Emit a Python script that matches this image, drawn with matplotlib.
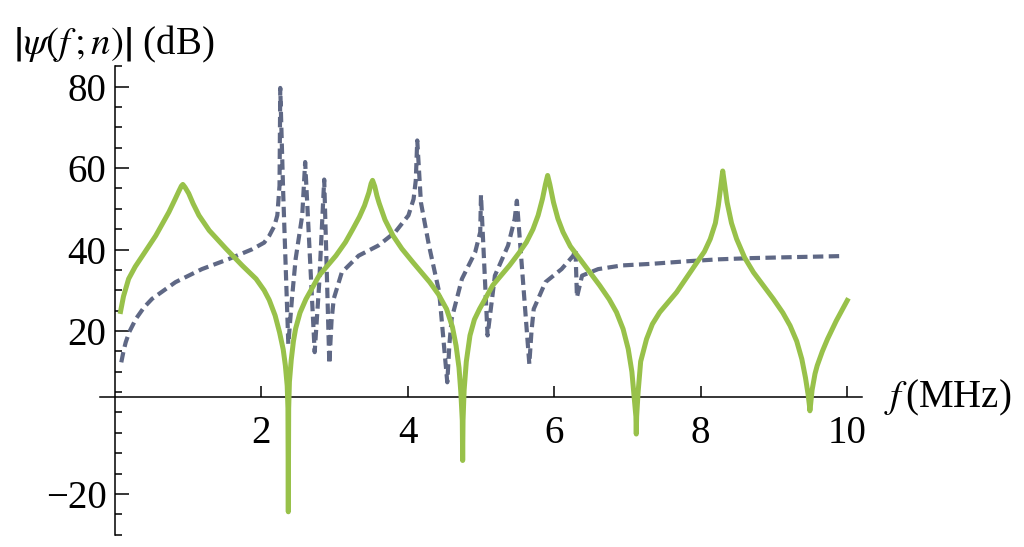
import numpy as np
import matplotlib
matplotlib.use("Agg")
import matplotlib.pyplot as plt
from matplotlib.ticker import FixedLocator

plt.rcParams["font.family"] = "Liberation Serif"
plt.rcParams["mathtext.fontset"] = "stix"
plt.rcParams["font.size"] = 28

# green solid curve
f_green = [0.08, 0.12, 0.19, 0.28, 0.38, 0.56, 0.74, 0.82, 0.88, 0.91, 0.93,
           0.96, 1.01, 1.07, 1.15, 1.29, 1.52, 1.74, 1.93, 2.04, 2.11, 2.19,
           2.25, 2.30, 2.33, 2.355, 2.365, 2.37, 2.375, 2.385, 2.41, 2.44,
           2.47, 2.53, 2.61, 2.79, 3.02, 3.15, 3.25, 3.34, 3.41, 3.47, 3.50,
           3.52, 3.55, 3.58, 3.61, 3.69, 3.80, 3.92, 4.07, 4.30, 4.42, 4.53,
           4.61, 4.66, 4.70, 4.725, 4.745, 4.75, 4.755, 4.77, 4.80, 4.85,
           4.91, 4.98, 5.16, 5.39, 5.52, 5.62, 5.71, 5.78, 5.84, 5.88, 5.91,
           5.94, 5.99, 6.05, 6.12, 6.22, 6.35, 6.62, 6.75, 6.85, 6.94, 7.01,
           7.06, 7.095, 7.115, 7.12, 7.125, 7.145, 7.18, 7.26, 7.34, 7.44,
           7.67, 7.95, 8.05, 8.13, 8.20, 8.24, 8.27, 8.30, 8.33, 8.36, 8.42,
           8.49, 8.60, 8.72, 8.99, 9.12, 9.22, 9.31, 9.38, 9.43, 9.465, 9.485,
           9.49, 9.50, 9.52, 9.56, 9.59, 9.66, 9.73, 9.85, 10.0]
psi_green = [24.8, 28.5, 32.8, 35.8, 38.5, 43.4, 49.2, 52.2, 54.5, 55.6, 56.0,
             55.3, 53.8, 51.3, 48.4, 44.7, 40.2, 36.1, 32.8, 30.0, 27.6, 23.8,
             19.7, 15.5, 11.5, 6.5, 1.0, -24.4, 1.0, 7.5, 12.9, 17.5,
             20.6, 24.5, 27.8, 33.6, 38.5, 41.8, 45.0, 48.0, 50.8, 54.0, 56.2,
             57.0, 55.5, 53.2, 51.4, 47.3, 43.4, 40.2, 36.9, 32.0, 29.0, 25.4,
             21.0, 16.4, 11.0, 5.0, -2.0, -11.8, -2.0, 5.5, 12.5, 18.9,
             22.8, 25.4, 31.2, 36.1, 39.2, 41.8, 45.0, 48.4, 52.5, 56.0, 58.2,
             56.0, 51.6, 47.6, 44.3, 40.8, 37.7, 31.2, 27.8, 24.6, 20.5, 15.6,
             10.0, 3.0, -1.0, -5.3, -1.0, 5.0, 12.5, 18.0, 21.7, 24.6,
             29.5, 36.9, 39.5, 42.6, 46.5, 50.8, 55.0, 59.3, 55.5, 51.6, 46.5,
             42.6, 38.0, 34.4, 27.9, 24.5, 21.3, 17.5, 13.1, 8.5, 4.5, 1.5,
             0.4, 2.0, 5.5, 9.5, 11.5, 15.0, 18.0, 22.5, 27.5]

# dashed curve
f_dash = [0.09, 0.12, 0.15, 0.20, 0.29, 0.40, 0.51, 0.83, 1.19, 1.56, 1.88,
          2.04, 2.11, 2.18, 2.22, 2.25, 2.26, 2.30, 2.37, 2.42, 2.47, 2.56,
          2.60, 2.73, 2.79, 2.86, 2.93, 2.96, 2.99, 3.10, 3.33, 3.60, 3.83,
          4.01, 4.08, 4.11, 4.13, 4.18, 4.29, 4.43, 4.54, 4.57, 4.60, 4.74,
          4.92, 4.99, 5.00, 5.09, 5.19, 5.37, 5.46, 5.49, 5.66, 5.69, 5.72,
          5.88, 6.10, 6.26, 6.29, 6.31, 6.38, 6.60, 6.92, 7.33, 7.79, 8.24,
          8.69, 9.15, 9.92]
psi_dash = [12.3, 15.0, 17.2, 19.8, 23.0, 25.8, 27.9, 32.0, 35.2, 37.7, 40.1,
            41.7, 43.4, 45.8, 48.4, 55.7, 79.7, 54.0, 16.8, 28.0, 37.7, 48.4,
            61.5, 14.8, 31.2, 57.2, 11.9, 22.5, 27.9, 34.4, 38.5, 41.0, 44.3,
            48.4, 52.4, 57.0, 66.8, 51.6, 41.0, 29.5, 7.4, 17.0, 23.0, 32.8,
            39.3, 44.3, 53.4, 18.9, 33.6, 41.0, 47.5, 52.0, 11.9, 20.0, 25.4,
            32.0, 35.2, 38.5, 40.1, 28.3, 33.6, 35.2, 36.1, 36.5, 37.1, 37.6,
            37.9, 38.1, 38.4]

fig = plt.figure(figsize=(10.24, 5.47), dpi=100)
ax = fig.add_axes([0.0977, 0.0227, 0.744, 0.856])

ax.plot(f_dash, psi_dash, color="#5f6885", lw=3.0, dashes=(2.5, 1.3), zorder=2)
ax.plot(f_green, psi_green, color="#98c14a", lw=3.6, zorder=3)

ax.set_xlim(-0.2, 10.2)
ax.set_ylim(-30, 85)

for s in ["top", "right"]:
    ax.spines[s].set_visible(False)
ax.spines["left"].set_position(("data", 0))
ax.spines["bottom"].set_position(("data", 3.7))
for s in ["left", "bottom"]:
    ax.spines[s].set_linewidth(1.1)

ax.xaxis.set_major_locator(FixedLocator([2, 4, 6, 8, 10]))
ax.yaxis.set_major_locator(FixedLocator([-20, 20, 40, 60, 80]))
ax.yaxis.set_minor_locator(FixedLocator([v for v in range(-30, 86, 5)
                                         if v not in (-20, 20, 40, 60, 80)]))
ax.set_yticklabels(["\u221220", "20", "40", "60", "80"])
ax.tick_params(axis="x", which="major", direction="in", length=8,
               width=1.1, labelsize=28, pad=13)
ax.tick_params(axis="y", which="minor", direction="in", length=5, width=1.1)
ax.tick_params(axis="y", which="major", direction="in", length=10,
               width=1.1, labelsize=28, pad=6)

fig.text(0.013, 0.918, r"$\left|\psi(f\,;n)\right|$ (dB)", fontsize=28,
         va="center")
fig.text(0.863, 0.272, r"$f\,$(MHz)", fontsize=28, va="center")

fig.savefig("out.png", dpi=100)
